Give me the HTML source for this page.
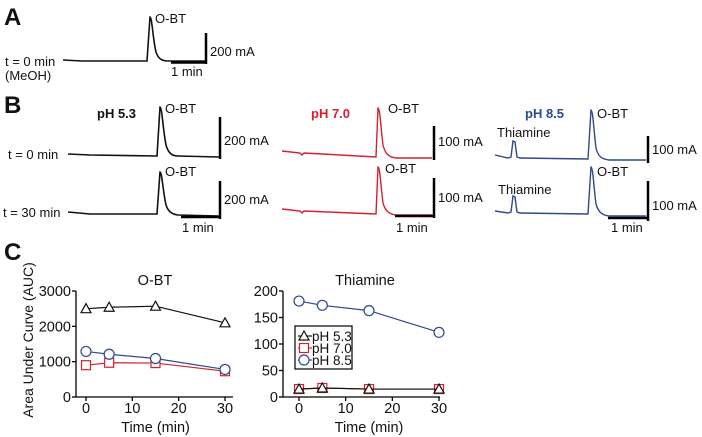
<!DOCTYPE html>
<html><head><meta charset="utf-8"><style>
html,body{margin:0;padding:0;background:#fff;}
svg{display:block;font-family:"Liberation Sans",Arial,sans-serif;}
</style></head><body>
<svg id="fig" width="702" height="437" viewBox="0 0 702 437">
<g font-size="13" fill="#111">
<text x="4" y="25" font-size="24" font-weight="bold">A</text>
<text x="5" y="66">t = 0 min</text>
<text x="5" y="80">(MeOH)</text>
<path d="M63,60 L82,61 L147,61 L150,17 C152,17 153,40 156,52 C158,58 161,61 168,61 L205,61" fill="none" stroke="#111" stroke-width="1.6"/>
<text x="155" y="23">O-BT</text>
<line x1="206" y1="33" x2="206" y2="64" stroke="#000" stroke-width="2.5"/>
<line x1="171" y1="62.5" x2="206" y2="62.5" stroke="#000" stroke-width="2.5"/>
<text x="210" y="56">200 mA</text>
<text x="171" y="76">1 min</text>
</g>
<g font-size="13" fill="#111">
<text x="4" y="113" font-size="24" font-weight="bold">B</text>
<text x="8" y="159">t = 0 min</text>
<text x="3" y="217">t = 30 min</text>
<text x="97" y="118" font-weight="bold">pH 5.3</text>
<path d="M68,154 L90,155 L157,156 L160,107 C162,107 163,130 166,145 C168,152 171,156 178,156 L219,157" fill="none" stroke="#111" stroke-width="1.6"/>
<path d="M68,212 L90,214 L157,214 L160,172 C162,172 163,192 166,205 C168,211 171,214 178,215 L219,216" fill="none" stroke="#111" stroke-width="1.6"/>
<text x="165" y="113">O-BT</text>
<text x="165" y="176">O-BT</text>
<line x1="220" y1="117" x2="220" y2="159" stroke="#000" stroke-width="2.5"/>
<line x1="220" y1="181" x2="220" y2="219" stroke="#000" stroke-width="2.5"/>
<line x1="181" y1="217" x2="220" y2="217" stroke="#000" stroke-width="2.5"/>
<text x="224" y="145">200 mA</text>
<text x="224" y="204">200 mA</text>
<text x="182" y="232">1 min</text>

<text x="311" y="118" font-weight="bold" fill="#d42030">pH 7.0</text>
<path d="M282,151 L300,153 L302,155 L304,153 L376,157 L378,108 C380,108 381,130 383,145 C385,153 388,157 396,158 L432,158" fill="none" stroke="#d42030" stroke-width="1.4"/>
<path d="M282,209 L300,211 L302,213 L304,211 L376,214 L378,167 C380,167 381,188 383,203 C385,210 388,214 396,215 L432,215" fill="none" stroke="#d42030" stroke-width="1.4"/>
<text x="388" y="113">O-BT</text>
<text x="385" y="173">O-BT</text>
<line x1="434" y1="126" x2="434" y2="160" stroke="#000" stroke-width="2.5"/>
<line x1="434" y1="178" x2="434" y2="218" stroke="#000" stroke-width="2.5"/>
<line x1="395" y1="216" x2="434" y2="216" stroke="#000" stroke-width="2.5"/>
<text x="438" y="146">100 mA</text>
<text x="438" y="202">100 mA</text>
<text x="396" y="232">1 min</text>

<text x="525" y="118" font-weight="bold" fill="#2d4a8e">pH 8.5</text>
<path d="M495,155 L508,158 L511,157 L513,141 L515,142 L517,157 L520,158 L588,159 L591,110 C593,110 594,133 596,148 C598,156 601,159 609,160 L646,160" fill="none" stroke="#2d4a8e" stroke-width="1.4"/>
<path d="M495,211 L508,213 L511,212 L513,196 L515,197 L517,212 L520,213 L588,214 L591,167 C593,167 594,190 596,204 C598,211 601,215 609,216 L646,216" fill="none" stroke="#2d4a8e" stroke-width="1.4"/>
<text x="497" y="137">Thiamine</text>
<text x="498" y="194">Thiamine</text>
<text x="597" y="118">O-BT</text>
<text x="597" y="176">O-BT</text>
<line x1="648" y1="136" x2="648" y2="163" stroke="#000" stroke-width="2.5"/>
<line x1="648" y1="181" x2="648" y2="221" stroke="#000" stroke-width="2.5"/>
<line x1="608" y1="218" x2="648" y2="218" stroke="#000" stroke-width="2.5"/>
<text x="652" y="154">100 mA</text>
<text x="652" y="210">100 mA</text>
<text x="611" y="232">1 min</text>
</g>
<g id="panelC" font-size="14.5" fill="#111">
<text x="4" y="260" font-size="24" font-weight="bold">C</text>
<text transform="translate(33,340) rotate(-90)" text-anchor="middle" font-size="14">Area Under Curve (AUC)</text>
</g>
</svg>
<script>
const times = [0, 5, 15, 30];
const obtPh53 = [2500, 2540, 2570, 2100];
const obtPh70 = [900, 970, 960, 730];
const obtPh85 = [1290, 1210, 1090, 780];
const thiPh53 = [15, 17, 15, 15];
const thiPh70 = [15, 17, 15, 15];
const thiPh85 = [181, 173, 163, 122];
const xTicks = [0, 10, 20, 30];
const obtYTicks = [0, 1000, 2000, 3000];
const thiYTicks = [0, 50, 100, 150, 200];
const legendLabels = ["pH 5.3", "pH 7.0", "pH 8.5"];

const NS = "http://www.w3.org/2000/svg";
const root = document.getElementById("panelC");
function mk(tag, attrs, parent) {
  const e = document.createElementNS(NS, tag);
  for (const k in attrs) e.setAttribute(k, attrs[k]);
  (parent || root).appendChild(e);
  return e;
}
function marker(g, type, x, y, color) {
  let m;
  if (type === "tri") m = mk("path", {d: `M${x},${y-5} L${x+5},${y+4} L${x-5},${y+4} Z`, fill: "#fff", stroke: color, "stroke-width": 1.2}, g);
  else if (type === "sq") m = mk("rect", {x: x-4.5, y: y-4.5, width: 9, height: 9, fill: "#fff", stroke: color, "stroke-width": 1.2}, g);
  else m = mk("circle", {cx: x, cy: y, r: 5, fill: "#fff", stroke: color, "stroke-width": 1.2}, g);
  
  
}
function chart(name, axX, x0, x1, yMax, yTicks, title, titleX, series) {
  const yTop = 291, yBot = 397;
  const sx = t => x0 + (x1 - x0) * t / 30;
  const sy = v => yBot - (yBot - yTop) * v / yMax;
  const g = mk("g", {});
  
  
  const ax = mk("path", {d: `M${axX},${yTop} L${axX},${yBot} L${axX+157},${yBot}`, fill: "none", stroke: "#000", "stroke-width": 1.3}, g);
  
  
  yTicks.forEach(v => {
    mk("line", {x1: axX-4, x2: axX, y1: sy(v), y2: sy(v), stroke: "#000", "stroke-width": 1.3}, g);
    const t = mk("text", {x: axX-5, y: sy(v)+5, "text-anchor": "end"}, g);
    t.textContent = v;
    
    
  });
  xTicks.forEach(v => {
    mk("line", {x1: sx(v), x2: sx(v), y1: yBot, y2: yBot+4, stroke: "#000", "stroke-width": 1.3}, g);
    const t = mk("text", {x: sx(v), y: yBot+16, "text-anchor": "middle"}, g);
    t.textContent = v;
    
    
  });
  const xt = mk("text", {x: (x0+x1)/2, y: 432, "text-anchor": "middle"}, g);
  xt.textContent = "Time (min)";
  
  
  const tt = mk("text", {x: titleX, y: 285, "text-anchor": "middle"}, g);
  tt.textContent = title;
  
  
  series.forEach(s => {
    const sg = mk("g", {}, g);
    
    
    const d = s.vals.map((v, i) => (i ? "L" : "M") + sx(times[i]) + "," + sy(v)).join(" ");
    mk("path", {d, fill: "none", stroke: s.color, "stroke-width": 1.2}, sg);
    s.vals.forEach((v, i) => marker(sg, s.type, sx(times[i]), sy(v), s.color));
  });
}
const C53 = "#111", C70 = "#d42030", C85 = "#2d4a8e";
chart("obt-chart", 76, 86, 225, 3000, obtYTicks, "O-BT", 155, [
  {name: "series-ph53", vals: obtPh53, color: C53, type: "tri"},
  {name: "series-ph70", vals: obtPh70, color: C70, type: "sq"},
  {name: "series-ph85", vals: obtPh85, color: C85, type: "circ"}]);
chart("thiamine-chart", 283, 299, 439, 200, thiYTicks, "Thiamine", 365, [
  {name: "series-ph85", vals: thiPh85, color: C85, type: "circ"},
  {name: "series-ph70", vals: thiPh70, color: C70, type: "sq"},
  {name: "series-ph53", vals: thiPh53, color: C53, type: "tri"}]);

const lg = mk("g", {});


mk("rect", {x: 295, y: 326, width: 57, height: 43, fill: "#fff", stroke: "#000", "stroke-width": 1.2}, lg);
const lc = [C53, C70, C85], lt = ["tri", "sq", "circ"];
legendLabels.forEach((lab, i) => {
  const y = 336 + i * 12;
  const e = mk("g", {}, lg);
  
  
  mk("line", {x1: 298, x2: 312, y1: y, y2: y, stroke: lc[i], "stroke-width": 1.2}, e);
  marker(e, lt[i], 304, y, lc[i]);
  const t = mk("text", {x: 312, y: y+5, "font-size": 13.5}, e);
  t.textContent = lab;
});
</script>
</body></html>
